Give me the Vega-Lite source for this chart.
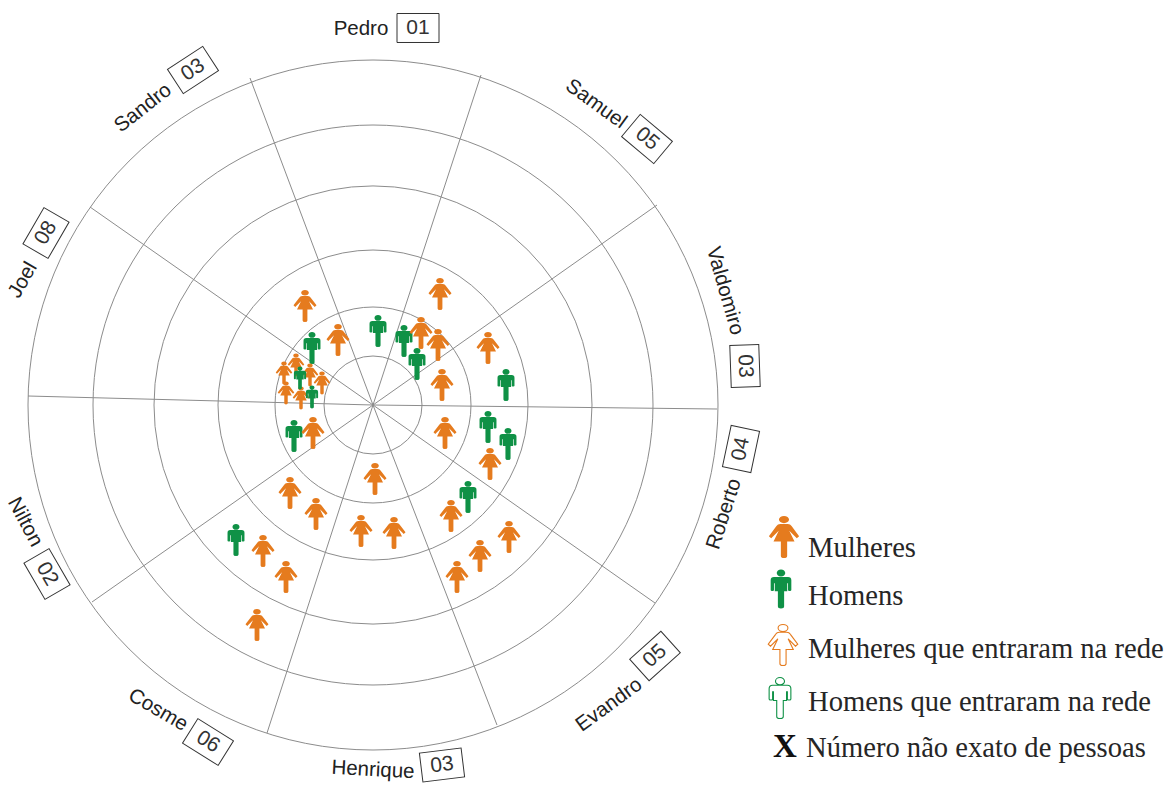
{
"$schema":"https://vega.github.io/schema/vega-lite/v6.json",
"width":1173,"height":785,
"autosize":{"type":"fit","contains":"padding"},
"padding":0,
"background":"white",
"config":{"view":{"stroke":null},"axis":{"domain":false,"grid":false,"ticks":false,"labels":false,"title":null}},
"datasets":{
"aneis":[{"cx":373,"cy":405,"raio":49},{"cx":373,"cy":405,"raio":98},{"cx":373,"cy":405,"raio":155},{"cx":373,"cy":405,"raio":219},{"cx":373,"cy":405,"raio":280},{"cx":373,"cy":405,"raio":345}],
"raios":[{"cx":373,"cy":405,"x":481,"y":75},{"cx":373,"cy":405,"x":657,"y":205},{"cx":373,"cy":405,"x":717,"y":409},{"cx":373,"cy":405,"x":655,"y":603},{"cx":373,"cy":405,"x":497,"y":725},{"cx":373,"cy":405,"x":267,"y":733},{"cx":373,"cy":405,"x":92,"y":602},{"cx":373,"cy":405,"x":28,"y":396},{"cx":373,"cy":405,"x":90,"y":207},{"cx":373,"cy":405,"x":250,"y":78}],
"nomes":[{"nome":"Pedro","x":361,"y":29,"giro":0},{"nome":"Samuel","x":596,"y":104,"giro":36},{"nome":"Valdomiro","x":725,"y":291,"giro":74},{"nome":"Roberto","x":724,"y":514,"giro":-72},{"nome":"Evandro","x":609,"y":705,"giro":-36},{"nome":"Henrique","x":373,"y":770,"giro":3},{"nome":"Cosme","x":158,"y":710,"giro":30},{"nome":"Nilton","x":25,"y":522,"giro":62},{"nome":"Joel","x":23,"y":280,"giro":-60},{"nome":"Sandro","x":143,"y":108,"giro":-38}],
"numeros":[{"num":"01","x":418,"y":28,"giro":0},{"num":"05","x":647,"y":139,"giro":40},{"num":"03","x":745,"y":366,"giro":88},{"num":"04","x":741,"y":449,"giro":-78},{"num":"05","x":655,"y":656,"giro":-42},{"num":"03","x":442,"y":765,"giro":-7},{"num":"06","x":208,"y":742,"giro":32},{"num":"02","x":47,"y":574,"giro":60},{"num":"08","x":46,"y":233,"giro":-60},{"num":"03","x":193,"y":70,"giro":-33}],
"pessoas":[
{"x":305,"y":306,"tipo":"Mulher","grupo":"normal"},{"x":338,"y":340,"tipo":"Mulher","grupo":"normal"},{"x":440,"y":294,"tipo":"Mulher","grupo":"normal"},
{"x":378,"y":331,"tipo":"Homem","grupo":"normal"},{"x":312,"y":348,"tipo":"Homem","grupo":"normal"},{"x":404,"y":341,"tipo":"Homem","grupo":"normal"},
{"x":421,"y":333,"tipo":"Mulher","grupo":"normal"},{"x":438,"y":345,"tipo":"Mulher","grupo":"normal"},{"x":417,"y":364,"tipo":"Homem","grupo":"normal"},
{"x":488,"y":348,"tipo":"Mulher","grupo":"normal"},{"x":442,"y":385,"tipo":"Mulher","grupo":"normal"},{"x":445,"y":433,"tipo":"Mulher","grupo":"normal"},
{"x":506,"y":385,"tipo":"Homem","grupo":"normal"},{"x":488,"y":427,"tipo":"Homem","grupo":"normal"},{"x":508,"y":444,"tipo":"Homem","grupo":"normal"},
{"x":490,"y":464,"tipo":"Mulher","grupo":"normal"},{"x":294,"y":436,"tipo":"Homem","grupo":"normal"},{"x":313,"y":433,"tipo":"Mulher","grupo":"normal"},
{"x":375,"y":479,"tipo":"Mulher","grupo":"normal"},{"x":290,"y":493,"tipo":"Mulher","grupo":"normal"},{"x":316,"y":514,"tipo":"Mulher","grupo":"normal"},
{"x":361,"y":531,"tipo":"Mulher","grupo":"normal"},{"x":394,"y":533,"tipo":"Mulher","grupo":"normal"},{"x":451,"y":516,"tipo":"Mulher","grupo":"normal"},
{"x":468,"y":497,"tipo":"Homem","grupo":"normal"},{"x":509,"y":537,"tipo":"Mulher","grupo":"normal"},{"x":480,"y":556,"tipo":"Mulher","grupo":"normal"},
{"x":457,"y":577,"tipo":"Mulher","grupo":"normal"},{"x":236,"y":540,"tipo":"Homem","grupo":"normal"},{"x":263,"y":551,"tipo":"Mulher","grupo":"normal"},
{"x":286,"y":577,"tipo":"Mulher","grupo":"normal"},{"x":257,"y":625,"tipo":"Mulher","grupo":"normal"},
{"x":284,"y":373,"tipo":"Mulher","grupo":"pequeno"},{"x":296,"y":365,"tipo":"Mulher","grupo":"pequeno"},{"x":310,"y":375,"tipo":"Mulher","grupo":"pequeno"},
{"x":322,"y":383,"tipo":"Mulher","grupo":"pequeno"},{"x":286,"y":393,"tipo":"Mulher","grupo":"pequeno"},{"x":301,"y":398,"tipo":"Mulher","grupo":"pequeno"},
{"x":300,"y":378,"tipo":"Homem","grupo":"pequeno"},{"x":312,"y":397,"tipo":"Homem","grupo":"pequeno"}],
"chave":[{"x":784,"y":537,"tipo":"Mulheres"},{"x":781,"y":589,"tipo":"Homens"}],
"chaveNovos":[{"x":783,"y":645,"tipo":"Mulheres que entraram na rede"},{"x":780,"y":698,"tipo":"Homens que entraram na rede"}],
"textos":[{"x":808,"y":557,"texto":"Mulheres"},{"x":808,"y":605,"texto":"Homens"},{"x":808,"y":658,"texto":"Mulheres que entraram na rede"},{"x":808,"y":711,"texto":"Homens que entraram na rede"},{"x":806,"y":757,"texto":"Número não exato de pessoas"}],
"xis":[{"x":785,"y":757,"texto":"X"}]
},
"layer":[
{"data":{"name":"aneis"},"mark":{"type":"point","filled":false,"shape":"circle","stroke":"#8c8c8c","strokeWidth":1,"opacity":1},
 "encoding":{"x":{"field":"cx","type":"quantitative","scale":{"domain":[0,1173],"nice":false,"zero":false},"axis":null},
 "y":{"field":"cy","type":"quantitative","scale":{"domain":[785,0],"nice":false,"zero":false},"axis":null},
 "size":{"field":"raio","type":"quantitative","legend":null,"scale":{"type":"pow","exponent":2,"domain":[0,345],"range":[0,476100]}}}},
{"data":{"name":"raios"},"mark":{"type":"rule","stroke":"#8c8c8c","strokeWidth":1},
 "encoding":{"x":{"field":"cx","type":"quantitative"},"y":{"field":"cy","type":"quantitative"},"x2":{"field":"x"},"y2":{"field":"y"}}},
{"data":{"name":"pessoas"},"mark":{"type":"point","filled":true,"opacity":1,"strokeWidth":0},
 "encoding":{"x":{"field":"x","type":"quantitative"},"y":{"field":"y","type":"quantitative"},
 "color":{"field":"tipo","type":"nominal","legend":null,"scale":{"domain":["Mulher","Homem"],"range":["#e57b1e","#0f9146"]}},
 "shape":{"field":"tipo","type":"nominal","legend":null,"scale":{"domain":["Mulher","Homem"],"range":[
 "M-.18 -.62 L.18 -.62 Q.3 -.62 .36 -.52 L.72 -.04 L.61 .06 L.25 -.3 L.5 .22 L.15 .22 L.15 .9 Q.15 1 0 1 Q-.15 1 -.15 .9 L-.15 .22 L-.5 .22 L-.25 -.3 L-.61 .06 L-.72 -.04 L-.36 -.52 Q-.3 -.62 -.18 -.62 Z M-.24 -.83 A.24 .17 0 1 1 .24 -.83 A.24 .17 0 1 1 -.24 -.83 Z",
 "M-.36 -.62 L.36 -.62 Q.53 -.62 .53 -.45 L.53 .05 Q.53 .1 .46 .1 L.42 .1 Q.36 .1 .36 .05 L.36 -.3 L.32 -.3 L.32 .12 L.16 .12 L.16 .9 Q.16 1 0 1 Q-.16 1 -.16 .9 L-.16 .12 L-.32 .12 L-.32 -.3 L-.36 -.3 L-.36 .05 Q-.36 .1 -.42 .1 L-.46 .1 Q-.53 .1 -.53 .05 L-.53 -.45 Q-.53 -.62 -.36 -.62 Z M-.22 -.82 A.22 .18 0 1 1 .22 -.82 A.22 .18 0 1 1 -.22 -.82 Z"]}},
 "size":{"field":"grupo","type":"ordinal","legend":null,"scale":{"domain":["normal","pequeno"],"range":[1024,529]}}}},
{"data":{"name":"chave"},"mark":{"type":"point","filled":true,"opacity":1,"strokeWidth":0},
 "encoding":{"x":{"field":"x","type":"quantitative"},"y":{"field":"y","type":"quantitative"},
 "color":{"field":"tipo","type":"nominal","legend":null,"scale":{"domain":["Mulheres","Homens"],"range":["#e57b1e","#0f9146"]}},
 "shape":{"field":"tipo","type":"nominal","legend":null,"scale":{"domain":["Mulheres","Homens"],"range":[
 "M-.14 -.62 L.14 -.62 Q.24 -.62 .28 -.52 L.56 -.04 L.47 .04 L.19 -.3 L.38 .2 L.11 .2 L.11 .92 Q.11 1 0 1 Q-.11 1 -.11 .92 L-.11 .2 L-.38 .2 L-.19 -.3 L-.47 .04 L-.56 -.04 L-.28 -.52 Q-.24 -.62 -.14 -.62 Z M-.17 -.83 A.17 .17 0 1 1 .17 -.83 A.17 .17 0 1 1 -.17 -.83 Z",
 "M-.3 -.62 L.3 -.62 Q.44 -.62 .44 -.45 L.44 .05 Q.44 .1 .38 .1 L.35 .1 Q.3 .1 .3 .05 L.3 -.3 L.26 -.3 L.26 .12 L.13 .12 L.13 .9 Q.13 1 0 1 Q-.13 1 -.13 .9 L-.13 .12 L-.26 .12 L-.26 -.3 L-.3 -.3 L-.3 .05 Q-.3 .1 -.35 .1 L-.38 .1 Q-.44 .1 -.44 .05 L-.44 -.45 Q-.44 -.62 -.3 -.62 Z M-.18 -.82 A.18 .18 0 1 1 .18 -.82 A.18 .18 0 1 1 -.18 -.82 Z"]}},
 "size":{"field":"tipo","type":"nominal","legend":null,"scale":{"domain":["Mulheres","Homens"],"range":[1764,1521]}}}},
{"data":{"name":"chaveNovos"},"mark":{"type":"point","filled":false,"opacity":1,"strokeWidth":1.1,"size":1681},
 "encoding":{"x":{"field":"x","type":"quantitative"},"y":{"field":"y","type":"quantitative"},
 "color":{"field":"tipo","type":"nominal","legend":null,"scale":{"domain":["Mulheres que entraram na rede","Homens que entraram na rede"],"range":["#eb9f63","#55b283"]}},
 "shape":{"field":"tipo","type":"nominal","legend":null,"scale":{"domain":["Mulheres que entraram na rede","Homens que entraram na rede"],"range":[
 "M-.12 -.6 L.12 -.6 Q.22 -.6 .26 -.5 L.56 -.04 L.47 .04 L.19 -.3 L.36 .2 L.11 .2 L.11 1 L-.11 1 L-.11 .2 L-.36 .2 L-.19 -.3 L-.47 .04 L-.56 -.04 L-.26 -.5 Q-.22 -.6 -.12 -.6 Z M-.15 -.82 A.15 .15 0 1 1 .15 -.82 A.15 .15 0 1 1 -.15 -.82 Z",
 "M-.28 -.62 L.28 -.62 Q.42 -.62 .42 -.45 L.42 .05 L.3 .05 L.3 -.3 L.25 -.3 L.25 .12 L.12 .12 L.12 1 L-.12 1 L-.12 .12 L-.25 .12 L-.25 -.3 L-.3 -.3 L-.3 .05 L-.42 .05 L-.42 -.45 Q-.42 -.62 -.28 -.62 Z M-.15 -.82 A.15 .15 0 1 1 .15 -.82 A.15 .15 0 1 1 -.15 -.82 Z"]}}}},
{"data":{"name":"numeros"},"mark":{"type":"point","filled":false,"opacity":1,"stroke":"#333333","strokeWidth":1,"size":1764,"shape":"M-1 -.69 L1 -.69 L1 .69 L-1 .69 Z"},
 "encoding":{"x":{"field":"x","type":"quantitative"},"y":{"field":"y","type":"quantitative"},
 "angle":{"field":"giro","type":"quantitative","scale":{"domain":[-360,360],"range":[-360,360]}}}},
{"data":{"name":"numeros"},"mark":{"type":"text","font":"Liberation Sans","fontSize":21,"color":"#333333","align":"center","baseline":"middle"},
 "encoding":{"x":{"field":"x","type":"quantitative"},"y":{"field":"y","type":"quantitative"},"text":{"field":"num"},
 "angle":{"field":"giro","type":"quantitative","scale":{"domain":[-360,360],"range":[-360,360]}}}},
{"data":{"name":"nomes"},"mark":{"type":"text","font":"Liberation Sans","fontSize":20.5,"color":"#222222","align":"center","baseline":"middle"},
 "encoding":{"x":{"field":"x","type":"quantitative"},"y":{"field":"y","type":"quantitative"},"text":{"field":"nome"},
 "angle":{"field":"giro","type":"quantitative","scale":{"domain":[-360,360],"range":[-360,360]}}}},
{"data":{"name":"textos"},"mark":{"type":"text","font":"Liberation Serif","fontSize":28.6,"color":"#262626","align":"left","baseline":"alphabetic"},
 "encoding":{"x":{"field":"x","type":"quantitative"},"y":{"field":"y","type":"quantitative"},"text":{"field":"texto"}}},
{"data":{"name":"xis"},"mark":{"type":"text","font":"Liberation Serif","fontSize":33,"fontWeight":"bold","color":"#111111","align":"center","baseline":"alphabetic"},
 "encoding":{"x":{"field":"x","type":"quantitative"},"y":{"field":"y","type":"quantitative"},"text":{"field":"texto"}}}
]
}
